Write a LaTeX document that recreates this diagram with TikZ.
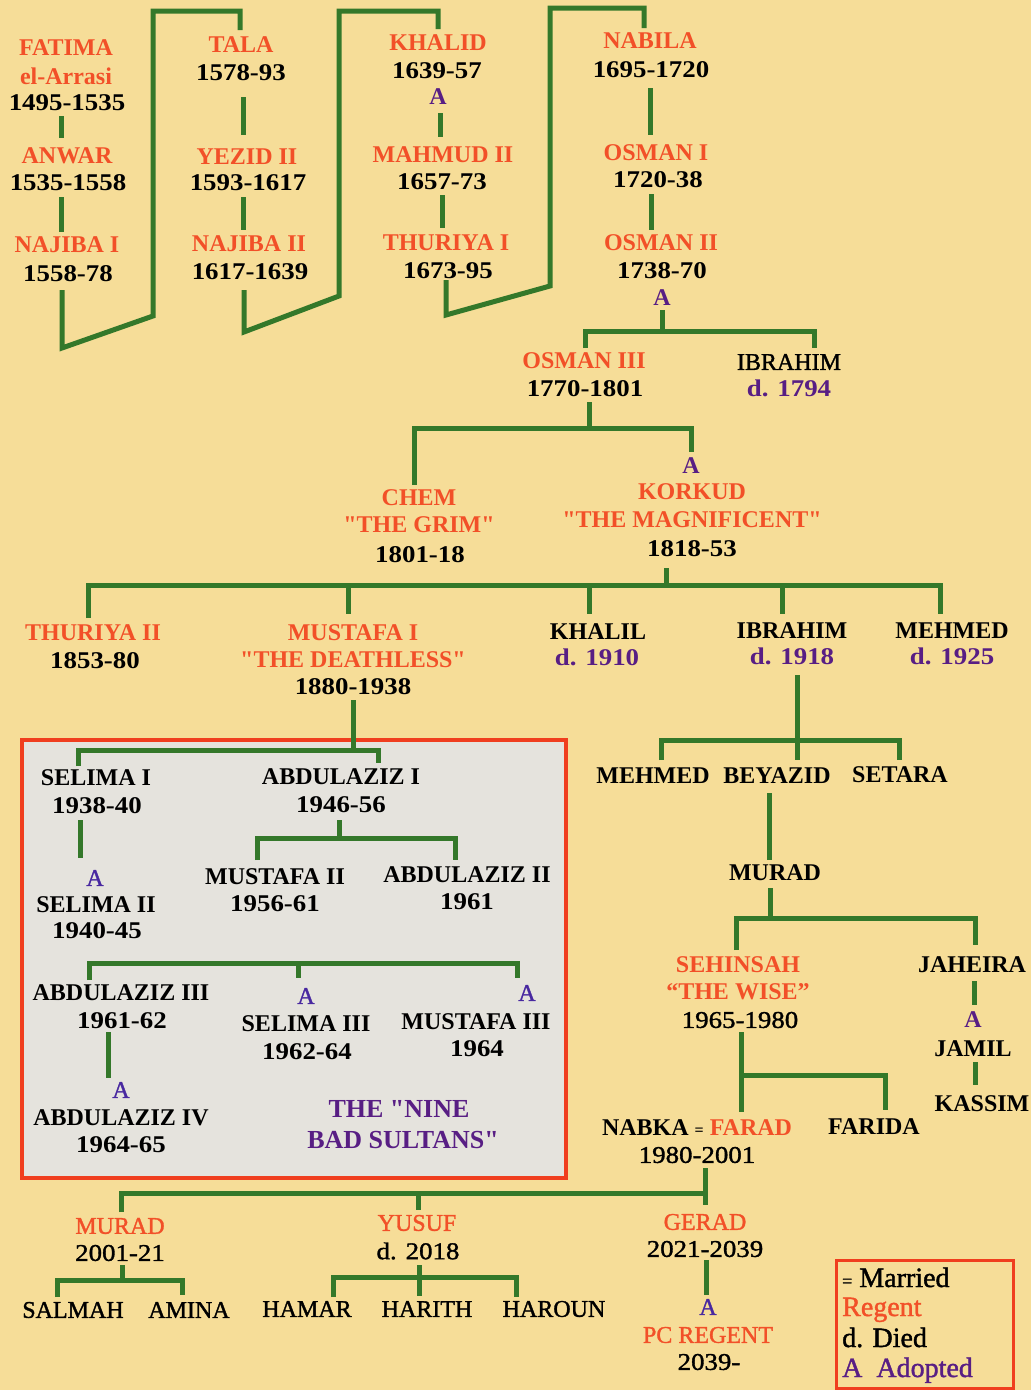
\documentclass[tikz,border=0pt]{standalone}
\usepackage{fontspec}
\setmainfont{Liberation Serif}[Ligatures=TeXOff]
\newfontfamily\dfont{Liberation Serif}[FakeStretch=1.12,Ligatures=TeXOff]
\newfontfamily\mfont{Liberation Serif}[FakeBold=1.4,Ligatures=TeXOff]
\newfontfamily\mdfont{Liberation Serif}[FakeStretch=1.12,FakeBold=1.4,Ligatures=TeXOff]
\definecolor{regc}{RGB}{242,80,40}
\definecolor{purc}{RGB}{88,30,132}
\definecolor{adc}{RGB}{72,40,160}
\definecolor{grc}{RGB}{52,120,42}
\definecolor{bgc}{RGB}{246,221,152}
\definecolor{boxc}{RGB}{229,227,221}
\definecolor{frc}{RGB}{240,62,30}
\tikzset{
  t/.style={inner sep=0pt, anchor=center},
  nb/.style={t, text=black, font=\fontsize{24}{28}\selectfont\bfseries},
  nr/.style={t, text=black, font=\fontsize{24}{28}\selectfont\mfont},
  rb/.style={t, text=regc, font=\fontsize{24}{28}\selectfont\bfseries},
  rr/.style={t, text=regc, font=\fontsize{24}{28}\selectfont\mfont},
  db/.style={t, text=black, font=\fontsize{24}{28}\selectfont\dfont\bfseries},
  dr/.style={t, text=black, font=\fontsize{24}{28}\selectfont\mdfont},
  pb/.style={t, text=purc, font=\fontsize{24}{28}\selectfont\dfont\bfseries},
  ab/.style={t, text=purc, font=\fontsize{24}{28}\selectfont\bfseries},
  ar/.style={t, text=adc, font=\fontsize{24}{28}\selectfont\mfont},
  big/.style={t, text=purc, font=\fontsize{26}{30}\selectfont\bfseries},
  leg/.style={inner sep=0pt, anchor=base west, font=\fontsize{28}{32}\selectfont\mfont},
  gl/.style={draw=grc, line width=5pt, line join=miter},
}
\begin{document}
\begin{tikzpicture}[x=1pt,y=-1pt]
\fill[bgc] (0,0) rectangle (1031,1390);
\useasboundingbox (0,0) rectangle (1031,1390);

% ---------- Nine bad sultans box ----------
\draw[frc, line width=4pt, fill=boxc] (22,740) rectangle (566,1178);

% ---------- zig-zag connectors ----------
\draw[gl] (62,290) -- (62,348) -- (153,316) -- (153,11) -- (240,11) -- (240,30);
\draw[gl] (244,290) -- (244,332) -- (339,296) -- (339,11) -- (438,11) -- (438,29);
\draw[gl] (446,280) -- (446,315) -- (550,286) -- (550,8) -- (644,8) -- (644,28);

% column connectors
\draw[gl] (61,116) -- (61,138);
\draw[gl] (61,197) -- (61,232);
\draw[gl] (243,97) -- (243,135);
\draw[gl] (243,197) -- (243,230);
\draw[gl] (440,113) -- (440,137);
\draw[gl] (442,195) -- (442,228);
\draw[gl] (650,88) -- (650,135);
\draw[gl] (651,194) -- (651,230);

% Osman II children
\draw[gl] (662,310) -- (662,331);
\draw[gl] (585,348) -- (585,331) -- (814,331) -- (814,348);
% Osman III children
\draw[gl] (589,402) -- (589,428);
\draw[gl] (414,485) -- (414,428) -- (691,428) -- (691,452);
% Korkud children
\draw[gl] (666,568) -- (666,585);
\draw[gl] (88,618) -- (88,585) -- (940,585) -- (940,614);
\draw[gl] (348,585) -- (348,614);
\draw[gl] (589,585) -- (589,614);
\draw[gl] (782,585) -- (782,614);
% Mustafa I children
\draw[gl] (353,700) -- (353,750);
\draw[gl] (78,766) -- (78,750) -- (378,750) -- (378,763);
\draw[gl] (80,820) -- (80,858);
\draw[gl] (339,820) -- (339,838);
\draw[gl] (257,860) -- (257,838) -- (455,838) -- (455,860);
\draw[gl] (89,980) -- (89,963) -- (517,963) -- (517,978);
\draw[gl] (298,963) -- (298,978);
\draw[gl] (108,1032) -- (108,1078);
% Ibrahim (d. 1918) line
\draw[gl] (797,675) -- (797,760);
\draw[gl] (661,760) -- (661,740) -- (899,740) -- (899,760);
\draw[gl] (769,793) -- (769,860);
\draw[gl] (770,888) -- (770,918);
\draw[gl] (736,950) -- (736,918) -- (975,918) -- (975,945);
\draw[gl] (974,981) -- (974,1005);
\draw[gl] (975,1062) -- (975,1085);
\draw[gl] (741,1032) -- (741,1112);
\draw[gl] (741,1075) -- (885,1075) -- (885,1110);
% Farad children
\draw[gl] (705,1168) -- (705,1205);
\draw[gl] (121,1212) -- (121,1193) -- (705,1193);
\draw[gl] (418,1193) -- (418,1210);
\draw[gl] (122,1265) -- (122,1280);
\draw[gl] (57,1297) -- (57,1280) -- (182,1280) -- (182,1295);
\draw[gl] (419,1265) -- (419,1296);
\draw[gl] (333,1297) -- (333,1277) -- (516,1277) -- (516,1297);
\draw[gl] (706,1260) -- (706,1295);

% ---------- column 1 ----------
\node[rb] (fatima) at (66,48) {FATIMA};
\node[rb] (fatimab) at (66,76) {el-Arrasi};
\node[db] (fatimad) at (67,103) {1495-1535};
\node[rb] (anwar) at (67,156) {ANWAR};
\node[db] (anward) at (68,183) {1535-1558};
\node[rb] (najibaa) at (67,245) {NAJIBA I};
\node[db] (najibaad) at (68,274) {1558-78};
% ---------- column 2 ----------
\node[rb] (tala) at (241,45) {TALA};
\node[db] (talad) at (241,73) {1578-93};
\node[rb] (yezid) at (247,157) {YEZID II};
\node[db] (yezidd) at (248,183) {1593-1617};
\node[rb] (najibab) at (249,244) {NAJIBA II};
\node[db] (najibabd) at (250,272) {1617-1639};
% ---------- column 3 ----------
\node[rb] (khalid) at (438,43) {KHALID};
\node[db] (khalidd) at (437,71) {1639-57};
\node[ab] (khalida) at (438,97) {A};
\node[rb] (mahmud) at (443,155) {MAHMUD II};
\node[db] (mahmudd) at (442,182) {1657-73};
\node[rb] (thuriyaa) at (446,243) {THURIYA I};
\node[db] (thuriyaad) at (448,271) {1673-95};
% ---------- column 4 ----------
\node[rb] (nabila) at (650,41) {NABILA};
\node[db] (nabilad) at (651,70) {1695-1720};
\node[rb] (osmana) at (656,153) {OSMAN I};
\node[db] (osmanad) at (658,180) {1720-38};
\node[rb] (osmanb) at (661,243) {OSMAN II};
\node[db] (osmanbd) at (662,271) {1738-70};
\node[ab] (osmanba) at (662,298) {A};

\node[rb] (osmanc) at (584,361) {OSMAN III};
\node[db] (osmancd) at (585,389) {1770-1801};
\node[nr] (ibrahima) at (789,362) {IBRAHIM};
\node[pb] (ibrahimad) at (789,388) {d. 1794};

\node[rb] (chem) at (419,498) {CHEM};
\node[rb] (chemb) at (419,525) {"THE GRIM"};
\node[db] (chemd) at (420,555) {1801-18};
\node[ab] (korkuda) at (691,466) {A};
\node[rb] (korkud) at (692,492) {KORKUD};
\node[rb] (korkudb) at (692,520) {"THE MAGNIFICENT"};
\node[db] (korkudd) at (692,549) {1818-53};

\node[rb] (thuriyab) at (93,633) {THURIYA II};
\node[db] (thuriyabd) at (95,661) {1853-80};
\node[rb] (mustafaa) at (353,633) {MUSTAFA I};
\node[rb] (mustafaab) at (353,660) {"THE DEATHLESS"};
\node[db] (mustafaad) at (353,687) {1880-1938};
\node[nb] (khalil) at (598,632) {KHALIL};
\node[pb] (khalild) at (597,657) {d. 1910};
\node[nb] (ibrahimb) at (792,631) {IBRAHIM};
\node[pb] (ibrahimbd) at (792,656) {d. 1918};
\node[nb] (mehmeda) at (952,631) {MEHMED};
\node[pb] (mehmedad) at (952,656) {d. 1925};

% ---------- inside box ----------
\node[nb] (selimaa) at (96,778) {SELIMA I};
\node[db] (selimaad) at (97,806) {1938-40};
\node[ar] (selimaba) at (95,878) {A};
\node[nb] (selimab) at (96,905) {SELIMA II};
\node[db] (selimabd) at (97,931) {1940-45};
\node[nb] (abdula) at (341,777) {ABDULAZIZ I};
\node[db] (abdulad) at (341,805) {1946-56};
\node[nb] (mustafab) at (275,877) {MUSTAFA II};
\node[db] (mustafabd) at (275,904) {1956-61};
\node[nb] (abdulb) at (467,875) {ABDULAZIZ II};
\node[db] (abdulbd) at (467,902) {1961};
\node[nb] (abdulc) at (121,993) {ABDULAZIZ III};
\node[db] (abdulcd) at (122,1021) {1961-62};
\node[ar] (abdulda) at (121,1090) {A};
\node[nb] (abduld) at (121,1118) {ABDULAZIZ IV};
\node[db] (abduldd) at (121,1145) {1964-65};
\node[ar] (selimaca) at (306,996) {A};
\node[nb] (selimac) at (306,1024) {SELIMA III};
\node[db] (selimacd) at (307,1052) {1962-64};
\node[ar] (mustafaca) at (527,993) {A};
\node[nb] (mustafac) at (476,1022) {MUSTAFA III};
\node[db] (mustafacd) at (477,1049) {1964};
\node[big] (ninea) at (399,1109) {THE "NINE};
\node[big] (nineb) at (403,1140) {BAD SULTANS"};

% ---------- right branch ----------
\node[nb] (mehmedb) at (653,776) {MEHMED};
\node[nb] (beyazid) at (777,776) {BEYAZID};
\node[nb] (setara) at (900,775) {SETARA};
\node[nb] (murada) at (775,873) {MURAD};
\node[rb] (sehinsah) at (738,965) {SEHINSAH};
\node[rb] (sehinsahb) at (738,992) {“THE WISE”};
\node[dr] (sehinsahd) at (740,1020) {1965-1980};
\node[nb] (jaheira) at (972,965) {JAHEIRA};
\node[ab] (jamila) at (973,1020) {A};
\node[nb] (jamil) at (973,1049) {JAMIL};
\node[nb] (kassim) at (982,1104) {KASSIM};
\node[nb] (farad) at (697,1128) {NABKA {\fontsize{16}{18}\selectfont =} \textcolor{regc}{FARAD}};
\node[dr] (faradd) at (697,1155) {1980-2001};
\node[nb] (farida) at (874,1127) {FARIDA};

% ---------- bottom ----------
\node[rr] (muradb) at (120,1226) {MURAD};
\node[dr] (muradbd) at (120,1253) {2001-21};
\node[rr] (yusuf) at (417,1223) {YUSUF};
\node[dr] (yusufd) at (418,1251) {d. 2018};
\node[rr] (gerad) at (705,1222) {GERAD};
\node[dr] (geradd) at (705,1249) {2021-2039};
\node[ar] (pca) at (708,1307) {A};
\node[rr] (pc) at (708,1335) {PC REGENT};
\node[dr] (pcd) at (709,1362) {2039-};
\node[nr] (salmah) at (73,1310) {SALMAH};
\node[nr] (amina) at (189,1310) {AMINA};
\node[nr] (hamar) at (307,1309) {HAMAR};
\node[nr] (harith) at (427,1309) {HARITH};
\node[nr] (haroun) at (554,1309) {HAROUN};

% ---------- legend ----------
\draw[frc, line width=3pt] (836,1260) rectangle (1013,1388);
\node[leg, text=black] (lega) at (842,1287) {{\fontsize{18}{20}\selectfont =} Married};
\node[leg, text=regc] (legb) at (842,1316) {Regent};
\node[leg, text=black] (legc) at (842,1347) {d. Died};
\node[leg, text=purc] (legd) at (842,1377) {A\enspace Adopted};
\end{tikzpicture}
\end{document}
